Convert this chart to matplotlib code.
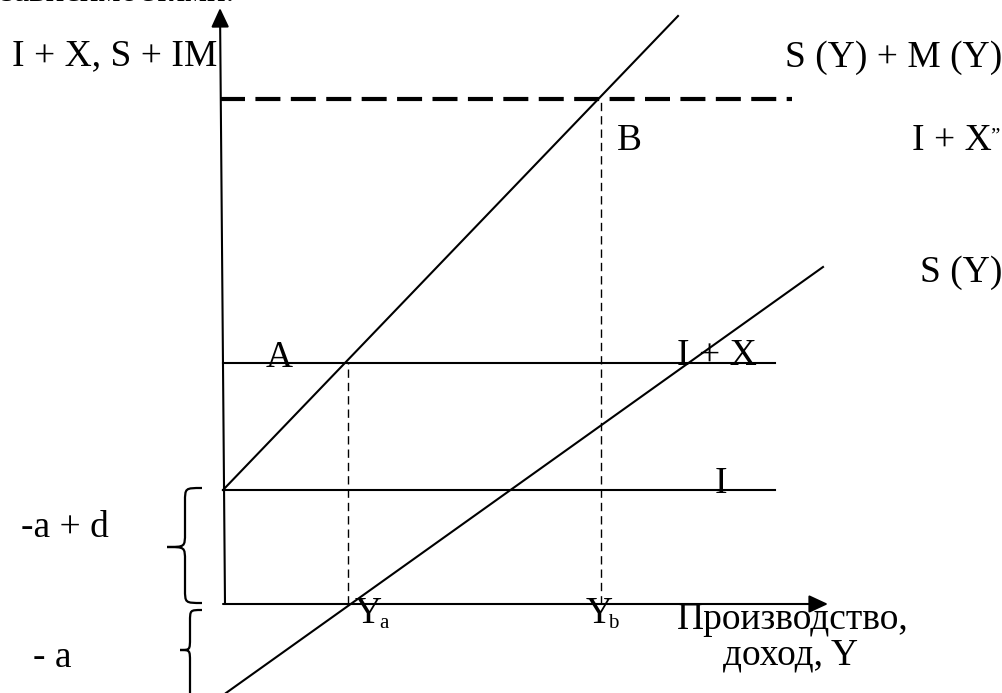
import matplotlib
matplotlib.use("Agg")
import matplotlib.pyplot as plt
from matplotlib.path import Path
from matplotlib.patches import PathPatch

plt.rcParams['font.family'] = ['Liberation Serif', 'DejaVu Serif']
plt.rcParams['lines.scale_dashes'] = False

# ---- model data (income Y on horizontal axis, value on vertical axis) ----
level_I = 114            # I
level_IX = 241           # I + X
level_IX2 = 505          # I + X''
Y_a = 125
Y_b = 378
S_Y = [3, 600]           # S(Y) line, income end points
S_val = [-89, 337]       # S(Y) values
SM_Y = [0, 455]          # S(Y) + M(Y) line, income end points
SM_val = [114, 588]      # S(Y) + M(Y) values
line_end = 552           # right end of horizontal lines
dash_end = 569

FS = 27
fig = plt.figure(figsize=(10.03, 6.93), dpi=100)
ax = fig.add_axes([0, 0, 1, 1])
ax.set_xlim(-223, 780)
ax.set_ylim(-89, 604)
ax.axis('off')

k = 'black'
arrow = dict(arrowstyle='-|>,head_length=0.58,head_width=0.27', lw=1.5,
             color=k, shrinkA=0, shrinkB=0, mutation_scale=20)
# axes
ax.annotate('', xy=(-3, 596), xytext=(2, 0), arrowprops=arrow)
ax.annotate('', xy=(605, 0), xytext=(0, 0), arrowprops=arrow)

# horizontal levels
ax.plot([0, line_end], [level_I, level_I], color=k, lw=1.5)
ax.plot([0, line_end], [level_IX, level_IX], color=k, lw=1.5)
ax.plot([-3, dash_end], [level_IX2, level_IX2], color=k, lw=3.0,
        dashes=(18, 7.5))

# S(Y) and S(Y)+M(Y)
ax.plot(S_Y, S_val, color=k, lw=1.5)
ax.plot(SM_Y, SM_val, color=k, lw=1.5)

# dashed verticals
ax.plot([Y_a, Y_a], [0, level_IX], color=k, lw=1.0, dashes=(6, 3.6))
ax.plot([Y_b, Y_b], [0, level_IX2], color=k, lw=1.0, dashes=(6, 3.6))

# braces
def brace(x_hook, x_stem, x_tip, y_top, y_bot, y_mid, r):
    verts = [(x_hook, y_top),
             (x_stem, y_top), (x_stem, y_top), (x_stem, y_top - r),
             (x_stem, y_mid + r),
             (x_stem, y_mid), (x_stem, y_mid), (x_tip, y_mid),
             (x_stem, y_mid), (x_stem, y_mid), (x_stem, y_mid - r),
             (x_stem, y_bot + r),
             (x_stem, y_bot), (x_stem, y_bot), (x_hook, y_bot)]
    codes = [Path.MOVETO,
             Path.CURVE4, Path.CURVE4, Path.CURVE4,
             Path.LINETO,
             Path.CURVE4, Path.CURVE4, Path.CURVE4,
             Path.CURVE4, Path.CURVE4, Path.CURVE4,
             Path.LINETO,
             Path.CURVE4, Path.CURVE4, Path.CURVE4]
    ax.add_patch(PathPatch(Path(verts, codes), fill=False, lw=1.6,
                           edgecolor=k, clip_on=False))

brace(-21, -38, -56, 116, 1, 57, 14)
brace(-21, -33, -43, -6, -100, -46, 12)

def t(x, y, s, fs=FS):
    ax.text(x, y, s, fontsize=fs, ha='left', va='baseline', color=k)

t(-223, 603, 'зависимостями.', fs=25)
t(-211, 539, 'I + X, S + IM')
t(562, 537, 'S (Y) + M (Y)')
t(394, 454, 'B')
t(689, 454, 'I + X')
t(767, 462, '”', fs=15)
t(697, 322, 'S (Y)')
t(43, 237, 'A')
t(454, 239, 'I + X')
t(492, 111, 'I')
t(-202, 67, '-a + d')
t(-190, -63, '- a')
t(132, -19, 'Y')
t(156, -24, 'a', fs=15)
t(363, -19, 'Y')
t(385, -24, 'b', fs=15)
t(454, -25, 'Производство,')
t(500, -61, 'доход, Y')

fig.savefig('out.png', dpi=100)
